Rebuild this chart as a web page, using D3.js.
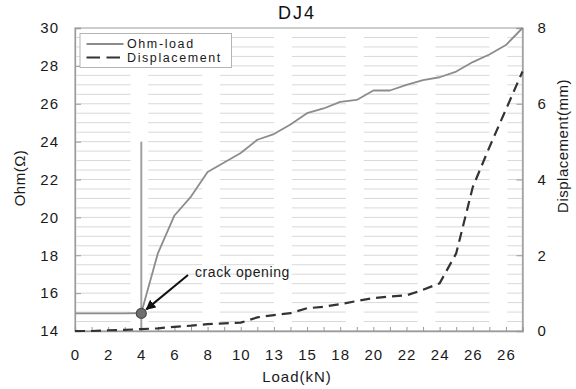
<!DOCTYPE html>
<html>
<head>
<meta charset="utf-8">
<script src="https://cdn.jsdelivr.net/npm/d3@7"></script>
<style>
html,body{margin:0;padding:0;background:#fff;}
svg{display:block;font-family:"Liberation Sans",Arial,sans-serif;}
</style>
</head>
<body>
<svg id="chart" width="576" height="389"></svg>
<script>
// ---- data ----
const loads = [0,1,2,3,4,5,6,7,8,9,10,11,13,14,15,16,18,19,20,21,22,23,24,25,26,26,26,27];
const tickLabels = ["0","2","4","6","8","10","13","15","18","20","22","24","26","26"];
const ohm = [14.93,14.93,14.93,14.93,14.95,18.1,20.1,21.1,22.4,22.9,23.4,24.1,24.4,24.9,25.5,25.75,26.1,26.2,26.7,26.7,27.0,27.25,27.4,27.7,28.2,28.6,29.1,30.0];
const displacement = [0,0,0.02,0.03,0.05,0.07,0.11,0.14,0.18,0.2,0.22,0.36,0.42,0.47,0.6,0.64,0.71,0.79,0.87,0.91,0.94,1.09,1.26,2.05,3.8,4.85,5.85,6.85];
const ohmTicks = [14,16,18,20,22,24,26,28,30];
const dispTicks = [0,2,4,6,8];
const crackIndex = 4;
const crackOhm = 14.93;
const markerTop = 24;
const seriesNames = ["Ohm-load","Displacement"];

// ---- layout ----
const svg = d3.select("#chart");
const L = 75, R = 522.5, T = 28, B = 331;
const idx = loads.map((d,i)=>i);
const x = d3.scalePoint().domain(idx).range([L, R]);
const y = d3.scaleLinear().domain([14,30]).range([B, T]);
const y2 = d3.scaleLinear().domain([0,8]).range([B, T]);

// gridlines every 0.5 ohm
const gridVals = d3.range(14.5, 30, 0.5);
svg.append("g").selectAll("line").data(gridVals).join("line")
  .attr("x1", L+1.5).attr("x2", R)
  .attr("y1", d=>y(d)).attr("y2", d=>y(d))
  .attr("stroke", "#d8d8d8").attr("stroke-width", 1)
  .attr("stroke-dasharray", "54,17.8");

// frame
svg.append("rect").attr("x", L).attr("y", T).attr("width", R-L).attr("height", B-T)
  .attr("fill", "none").attr("stroke", "#b4b4b4").attr("stroke-width", 1.3);

// axes
const fontSize = 15;
const gx = svg.append("g").attr("transform", `translate(0,${B})`)
  .call(d3.axisBottom(x).tickSize(-4).tickPadding(17)
    .tickFormat(i => i % 2 === 0 ? tickLabels[i/2] : ""));
const gy = svg.append("g").attr("transform", `translate(${L},0)`)
  .call(d3.axisLeft(y).tickValues(ohmTicks).tickSize(-6).tickPadding(16).tickFormat(d3.format("d")));
const gy2 = svg.append("g").attr("transform", `translate(${R},0)`)
  .call(d3.axisRight(y2).tickValues(dispTicks).tickSize(-6).tickPadding(15).tickFormat(d3.format("d")));
[gx,gy,gy2].forEach(g=>{
  g.select(".domain").attr("stroke","#9a9a9a").attr("stroke-width",1.3);
  g.selectAll(".tick line").attr("stroke","#9a9a9a").attr("stroke-width",1);
  g.selectAll("text").attr("font-size",fontSize).attr("fill","#1a1a1a")
    .attr("font-family","Liberation Sans, Arial, sans-serif").style("letter-spacing","1px");
});
gx.selectAll("text").attr("dy","0.32em").attr("y", 24);

// marker line
svg.append("line")
  .attr("x1", x(crackIndex)).attr("x2", x(crackIndex))
  .attr("y1", B).attr("y2", y(markerTop))
  .attr("stroke","#a0a0a0").attr("stroke-width",2);

// ohm line
const lineOhm = d3.line().x((d,i)=>x(i)).y(d=>y(d));
svg.append("path").datum(ohm).attr("d", lineOhm)
  .attr("fill","none").attr("stroke","#8c8c8c").attr("stroke-width",1.8)
  .attr("stroke-linejoin","round");

// displacement line
const lineDisp = d3.line().x((d,i)=>x(i)).y(d=>y2(d));
svg.append("path").datum(displacement).attr("d", lineDisp)
  .attr("fill","none").attr("stroke","#333").attr("stroke-width",2.2)
  .attr("stroke-dasharray","10,6");

// crack point
svg.append("circle").attr("cx", x(crackIndex)).attr("cy", y(crackOhm)).attr("r", 5)
  .attr("fill","#6e6e6e").attr("stroke","#4a4a4a").attr("stroke-width",1.2);

// arrow
svg.append("defs").append("marker").attr("id","ah").attr("viewBox","0 0 10 10")
  .attr("refX",9).attr("refY",5).attr("markerWidth",5).attr("markerHeight",5)
  .attr("orient","auto").append("path").attr("d","M0,0 L10,5 L0,10 z").attr("fill","#111");
svg.append("line").attr("x1",188).attr("y1",275).attr("x2",x(crackIndex)+5).attr("y2",y(crackOhm)-4)
  .attr("stroke","#111").attr("stroke-width",2).attr("marker-end","url(#ah)");
svg.append("text").attr("x",195).attr("y",276.5).attr("font-size",14).attr("fill","#1a1a1a")
  .style("letter-spacing","0.6px").text("crack opening");

// legend
const lg = svg.append("g");
lg.append("rect").attr("x",80).attr("y",33.5).attr("width",151.5).attr("height",34)
  .attr("fill","#fff").attr("stroke","#b4b4b4").attr("stroke-width",1);
lg.append("line").attr("x1",86.5).attr("x2",123.5).attr("y1",44).attr("y2",44)
  .attr("stroke","#8c8c8c").attr("stroke-width",1.8);
lg.append("line").attr("x1",86.5).attr("x2",120).attr("y1",57.5).attr("y2",57.5)
  .attr("stroke","#333").attr("stroke-width",2).attr("stroke-dasharray","13.5,6.5");
lg.selectAll("text.lt").data(seriesNames).join("text").attr("class","lt")
  .attr("x",127).attr("y",(d,i)=>44+i*13.5).attr("dy","0.35em")
  .attr("font-size",12.5).attr("fill","#1a1a1a").style("letter-spacing","1.6px").text(d=>d);

// titles
svg.append("text").attr("x",297).attr("y",19).attr("text-anchor","middle")
  .attr("font-size",18).attr("fill","#111").style("letter-spacing","2px").text("DJ4");
svg.append("text").attr("x",297).attr("y",382).attr("text-anchor","middle")
  .attr("font-size",15).attr("fill","#1a1a1a").style("letter-spacing","1px").text("Load(kN)");
svg.append("text").attr("transform","translate(25,178) rotate(-90)").attr("text-anchor","middle")
  .attr("font-size",15).attr("fill","#1a1a1a").style("letter-spacing","0.5px").text("Ohm(Ω)");
svg.append("text").attr("transform","translate(568,146) rotate(-90)").attr("text-anchor","middle")
  .attr("font-size",15).attr("fill","#1a1a1a").style("letter-spacing","0.5px").text("Displacement(mm)");
</script>
</body>
</html>
